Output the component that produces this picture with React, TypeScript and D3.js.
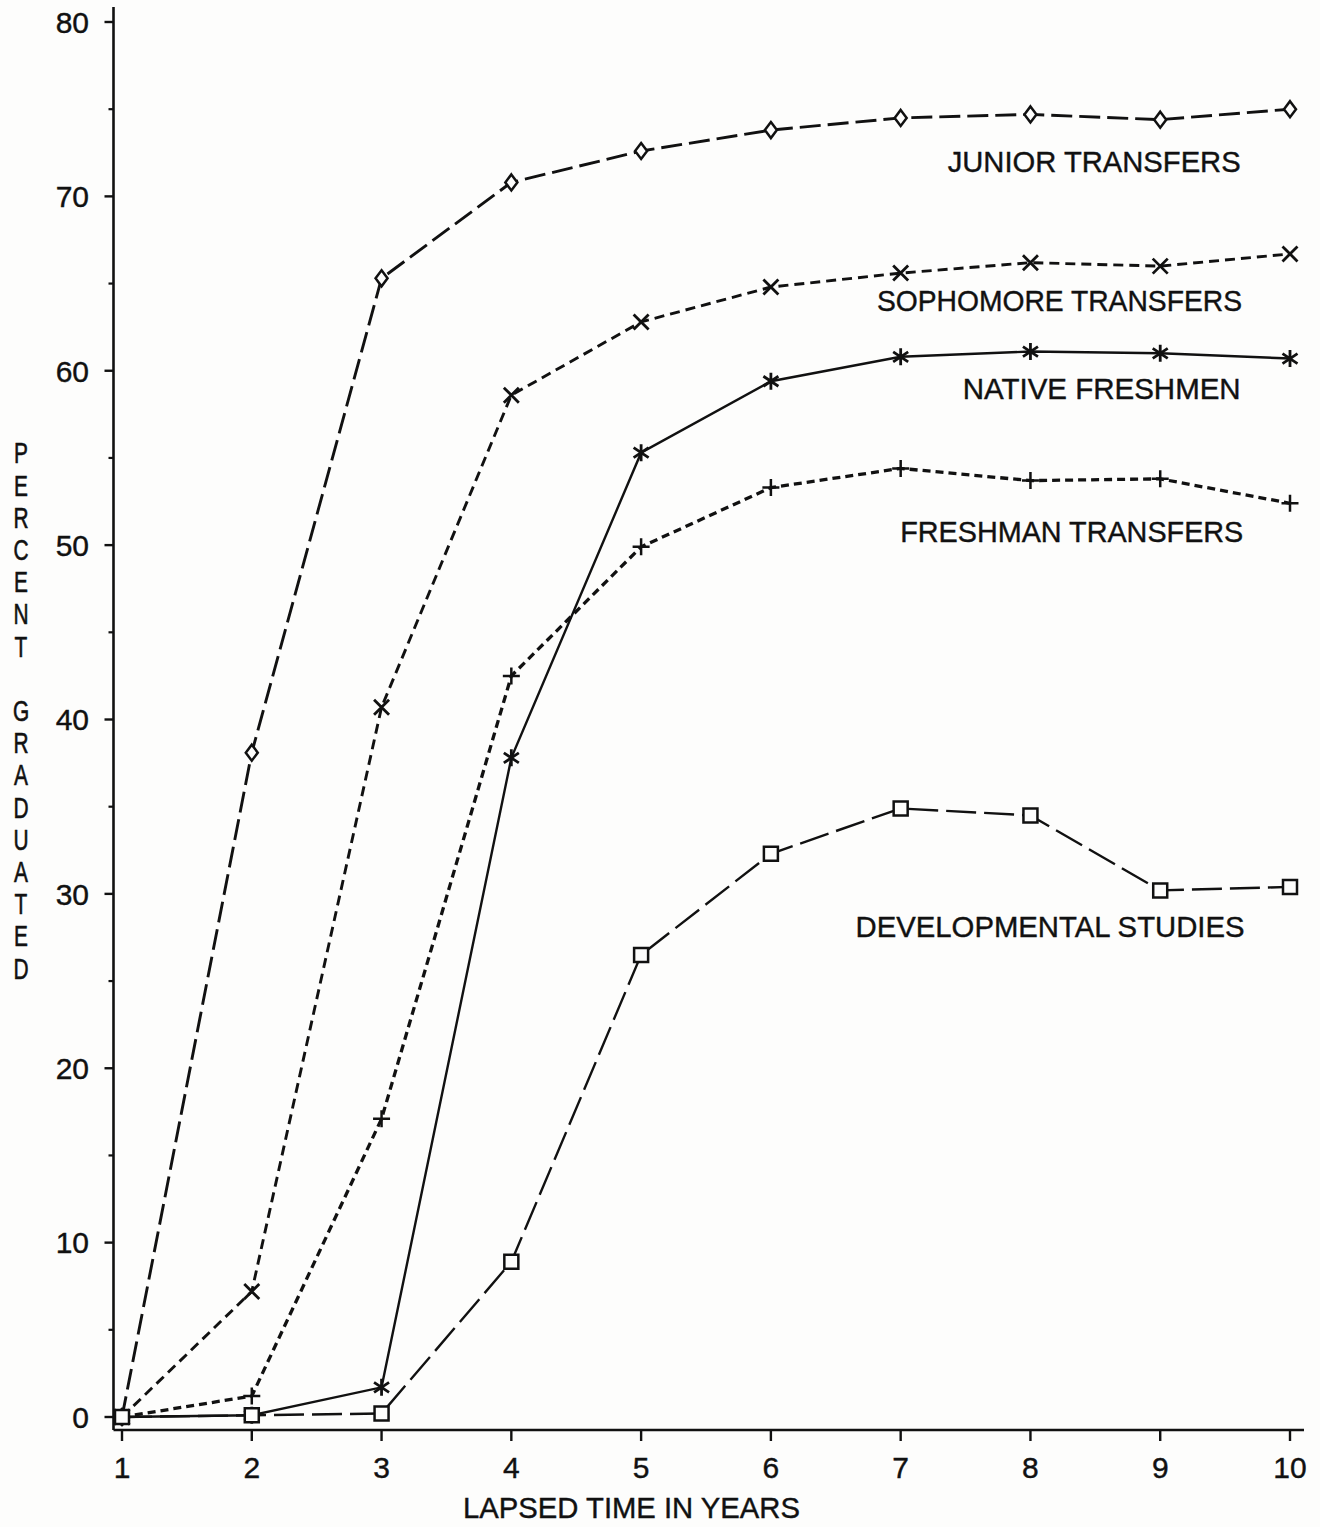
import React, { useEffect, useRef } from 'react';
import * as d3 from 'd3';

// Lapsed years on the x axis
const years = [1, 2, 3, 4, 5, 6, 7, 8, 9, 10];
const yTicks = [0, 10, 20, 30, 40, 50, 60, 70, 80];
const yMinorTicks = [5, 15, 25, 35, 45, 55, 65, 75];

// Percent graduated
const juniorTransfers = [0, 38.1, 65.3, 70.8, 72.6, 73.8, 74.5, 74.7, 74.4, 75.0];
const sophomoreTransfers = [0, 7.2, 40.7, 58.6, 62.8, 64.8, 65.6, 66.2, 66.0, 66.7];
const nativeFreshmen = [0, 0.1, 1.7, 37.8, 55.3, 59.4, 60.8, 61.1, 61.0, 60.7];
const freshmanTransfers = [0, 1.2, 17.1, 42.5, 49.9, 53.3, 54.4, 53.7, 53.8, 52.4];
const developmentalStudies = [0, 0.1, 0.2, 8.9, 26.5, 32.3, 34.9, 34.5, 30.2, 30.4];

const seriesNames = ['JUNIOR TRANSFERS', 'SOPHOMORE TRANSFERS', 'NATIVE FRESHMEN', 'FRESHMAN TRANSFERS', 'DEVELOPMENTAL STUDIES'];
// label anchor (right end, baseline) in data units
const labelX = [9.62, 9.63, 9.62, 9.64, 9.65];
const labelY = [71.4, 63.4, 58.4, 50.2, 27.5];

const yTitle = 'PERCENT GRADUATED';

const W = 1320;
const H = 1527;

const markerPaths: Record<string, string> = {
  diamond: 'M0,-8L6,0L0,8L-6,0Z',
  cross: 'M-7.5,-7.5L7.5,7.5M-7.5,7.5L7.5,-7.5',
  asterisk: 'M0,-8.5V8.5M-7.5,-5L7.5,5M-7.5,5L7.5,-5',
  plus: 'M-8.5,0H8.5M0,-8.5V8.5',
  square: 'M-7,-7H7V7H-7Z',
};

export default function App() {
  const svgRef = useRef<SVGSVGElement>(null);

  useEffect(() => {
    if (!svgRef.current) return;
    const svg = d3.select(svgRef.current);
    svg.selectAll('*').remove();

    const x = d3.scaleLinear().domain([1, 10]).range([122, 1290]);
    const y = d3.scaleLinear().domain([0, 80]).range([1417, 22]);

    const ink = '#111';
    const paper = '#fdfdfc';
    const font = '"Liberation Sans", Arial, sans-serif';

    svg.append('rect').attr('width', W).attr('height', H).attr('fill', paper);

    // axes
    const axisX = 113.5;
    const axisY = 1430;
    svg.append('line').attr('x1', axisX).attr('x2', axisX).attr('y1', 7).attr('y2', axisY)
      .attr('stroke', ink).attr('stroke-width', 2.6);
    svg.append('line').attr('x1', axisX).attr('x2', 1304).attr('y1', axisY).attr('y2', axisY)
      .attr('stroke', ink).attr('stroke-width', 2.6);

    svg.selectAll('.ytick').data(yTicks).enter().append('line')
      .attr('x1', axisX - 9).attr('x2', axisX)
      .attr('y1', d => y(d)).attr('y2', d => y(d))
      .attr('stroke', ink).attr('stroke-width', 2.4);
    svg.selectAll('.yminor').data(yMinorTicks).enter().append('line')
      .attr('x1', axisX - 5).attr('x2', axisX)
      .attr('y1', d => y(d)).attr('y2', d => y(d))
      .attr('stroke', ink).attr('stroke-width', 2.2);

    svg.selectAll('.ylabel').data(yTicks).enter().append('text')
      .attr('x', 89).attr('y', d => y(d)).attr('dy', '0.36em')
      .attr('text-anchor', 'end').attr('font-family', font).attr('font-size', 30)
      .attr('fill', ink).attr('stroke', ink).attr('stroke-width', 0.4).text(d => d);

    svg.selectAll('.xtick').data(years).enter().append('line')
      .attr('x1', d => x(d)).attr('x2', d => x(d))
      .attr('y1', axisY).attr('y2', axisY + 11)
      .attr('stroke', ink).attr('stroke-width', 2.4);
    svg.selectAll('.xlabel').data(years).enter().append('text')
      .attr('x', d => x(d)).attr('y', 1478)
      .attr('text-anchor', 'middle').attr('font-family', font).attr('font-size', 30)
      .attr('fill', ink).attr('stroke', ink).attr('stroke-width', 0.4).text(d => d);

    svg.append('text').attr('x', 463).attr('y', 1518)
      .attr('font-family', font).attr('font-size', 30).attr('fill', ink)
      .attr('stroke', ink).attr('stroke-width', 0.4)
      .attr('textLength', 337).attr('lengthAdjust', 'spacingAndGlyphs')
      .text('LAPSED TIME IN YEARS');

    // vertical stacked y title
    svg.selectAll('.ytitle').data(yTitle.split('')).enter().append('text')
      .attr('x', 0).attr('y', 0).attr('dy', '0.36em')
      .attr('text-anchor', 'middle').attr('font-family', font).attr('font-size', 29)
      .attr('fill', ink).attr('stroke', ink).attr('stroke-width', 0.6)
      .attr('transform', (_, i) => `translate(21,${453 + i * 32.2}) scale(0.72,1)`)
      .text(d => d);

    const series = [
      { name: seriesNames[0], values: juniorTransfers, dash: '21 7', width: 2.9, marker: 'diamond' },
      { name: seriesNames[1], values: sophomoreTransfers, dash: '10 6', width: 2.9, marker: 'cross' },
      { name: seriesNames[2], values: nativeFreshmen, dash: null, width: 2.4, marker: 'asterisk' },
      { name: seriesNames[3], values: freshmanTransfers, dash: '8 5', width: 3.3, marker: 'plus' },
      { name: seriesNames[4], values: developmentalStudies, dash: '30 8', width: 2.4, marker: 'square' },
    ];

    const line = d3.line<number>().x((_, i) => x(years[i])).y(d => y(d));

    series.forEach(s => {
      svg.append('path').attr('d', line(s.values)).attr('fill', 'none')
        .attr('stroke', ink).attr('stroke-width', s.width)
        .attr('stroke-dasharray', s.dash ?? null);
    });

    series.forEach(s => {
      const open = s.marker === 'diamond' || s.marker === 'square';
      svg.selectAll(null).data(s.values).enter().append('path')
        .attr('d', markerPaths[s.marker])
        .attr('transform', (d, i) => `translate(${x(years[i])},${y(d)})`)
        .attr('fill', open ? paper : 'none')
        .attr('stroke', ink).attr('stroke-width', s.marker === 'cross' || s.marker === 'asterisk' ? 2.8 : 2.5);
    });

    // series labels
    const labelWidths = [293, 365, 278, 343, 389];
    series.forEach((s, i) => {
      svg.append('text')
        .attr('x', x(labelX[i]) - labelWidths[i]).attr('y', y(labelY[i]))
        .attr('font-family', font).attr('font-size', 30).attr('fill', ink)
        .attr('stroke', ink).attr('stroke-width', 0.4)
        .attr('textLength', labelWidths[i]).attr('lengthAdjust', 'spacingAndGlyphs')
        .text(s.name);
    });
  }, []);

  return (
    <svg ref={svgRef} width={W} height={H}
      style={{ position: 'absolute', left: 0, top: 0, background: '#fdfdfc' }} />
  );
}
